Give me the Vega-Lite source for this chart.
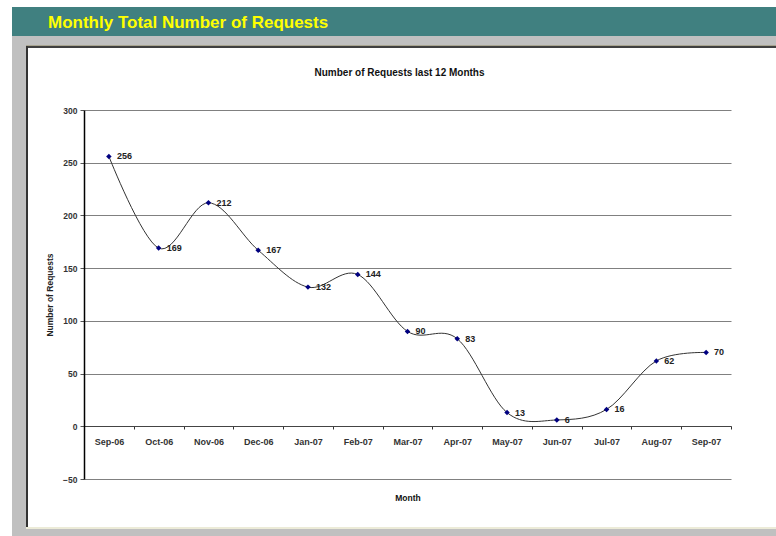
{
  "$schema": "https://vega.github.io/schema/vega-lite/v6.json",
  "background": "white",
  "padding": {"left": 12, "top": 7, "right": 0, "bottom": 0},
  "config": {"view": {"stroke": null}, "font": "Liberation Sans"},
  "vconcat": [
    {
      "width": 764, "height": 29,
      "view": {"fill": "#408080", "stroke": null},
      "data": {"values": [{"heading": "Monthly Total Number of Requests"}]},
      "mark": {"type": "text", "align": "left", "baseline": "alphabetic", "color": "#ffff00", "fontSize": 17, "fontWeight": "bold", "font": "Liberation Sans"},
      "encoding": {"text": {"field": "heading"}, "x": {"value": 36}, "y": {"value": 20.5}}
    },
    {
      "width": 764, "height": 9,
      "view": {"fill": "#c0c0c0", "stroke": null},
      "data": {"values": []},
      "mark": {"type": "point"},
      "encoding": {}
    },
    {
      "hconcat": [
        {
          "width": 14, "height": 1,
          "view": {"fill": "#c0c0c0", "stroke": null},
          "data": {"values": []},
          "mark": {"type": "point"},
          "encoding": {}
        },
        {
          "width": 750, "height": 1,
          "view": {"fill": "#a8a490", "stroke": null},
          "data": {"values": []},
          "mark": {"type": "point"},
          "encoding": {}
        }
      ],
      "spacing": 0
    },
    {
      "hconcat": [
        {
          "width": 14, "height": 481,
          "view": {"fill": "#c0c0c0", "stroke": null},
          "data": {"values": []},
          "mark": {"type": "point"},
          "encoding": {}
        },
        {
          "width": 2, "height": 481,
          "view": {"fill": "#333333", "stroke": null},
          "data": {"values": []},
          "mark": {"type": "point"},
          "encoding": {}
        },
        {
          "vconcat": [
            {
              "width": 748, "height": 2,
              "view": {"fill": "#404040", "stroke": null},
              "data": {"values": []},
              "mark": {"type": "point"},
              "encoding": {}
            },
            {
              "width": 748, "height": 20,
              "view": {"stroke": null},
              "data": {"values": []},
              "mark": {"type": "point"},
              "encoding": {}
            },
            {
              "hconcat": [
                {
                  "width": 17, "height": 1,
                  "view": {"stroke": null},
                  "data": {"values": []},
                  "mark": {"type": "point"},
                  "encoding": {}
                },
                {
                  "width": 647, "height": 369,
                  "view": {"stroke": null},
                  "title": {"text": "Number of Requests last 12 Months", "fontSize": 10, "fontWeight": "bold", "color": "#111111", "anchor": "middle", "frame": "group", "offset": 28, "dx": -8},
                  "data": {"values": [
                    {"month": "Sep-06", "requests": 256},
                    {"month": "Oct-06", "requests": 169},
                    {"month": "Nov-06", "requests": 212},
                    {"month": "Dec-06", "requests": 167},
                    {"month": "Jan-07", "requests": 132},
                    {"month": "Feb-07", "requests": 144},
                    {"month": "Mar-07", "requests": 90},
                    {"month": "Apr-07", "requests": 83},
                    {"month": "May-07", "requests": 13},
                    {"month": "Jun-07", "requests": 6},
                    {"month": "Jul-07", "requests": 16},
                    {"month": "Aug-07", "requests": 62},
                    {"month": "Sep-07", "requests": 70}
                  ]},
                  "encoding": {
                    "x": {
                      "field": "month", "type": "ordinal", "sort": null,
                      "scale": {"type": "band", "paddingInner": 0, "paddingOuter": 0},
                      "axis": {"title": "Month", "offset": -53, "tickBand": "extent", "tickSize": 3, "tickColor": "#333333", "domainColor": "#444444", "domainWidth": 1, "labelFontSize": 9, "labelFontWeight": "bold", "labelColor": "#333333", "labelPadding": 8, "labelAngle": 0, "labelOverlap": false, "titleFontSize": 8.5, "titleFontWeight": "bold", "titleColor": "#111111", "titlePadding": 47, "grid": false}
                    },
                    "y": {
                      "field": "requests", "type": "quantitative",
                      "scale": {"domain": [-50, 300], "nice": false, "zero": false},
                      "axis": {"values": [-50, 0, 50, 100, 150, 200, 250, 300], "title": "Number of Requests", "grid": true, "gridColor": "#808080", "gridWidth": 1, "gridOpacity": 1, "domainColor": "#000000", "domainWidth": 1.5, "tickSize": 4, "tickColor": "#555555", "labelFontSize": 8.5, "labelFontWeight": "bold", "labelColor": "#333333", "labelPadding": 3, "titleFontSize": 8.5, "titleFontWeight": "bold", "titleColor": "#222222", "titlePadding": 8}
                    }
                  },
                  "layer": [
                    {"mark": {"type": "line", "interpolate": "cardinal", "color": "#333333", "strokeWidth": 1}},
                    {"mark": {"type": "point", "shape": "diamond", "filled": true, "color": "#000080", "size": 30, "opacity": 1}},
                    {"mark": {"type": "text", "align": "left", "dx": 8, "baseline": "middle", "fontSize": 9, "fontWeight": "bold", "color": "#222222"},
                     "encoding": {"text": {"field": "requests", "type": "quantitative"}}}
                  ]
                }
              ],
              "spacing": 0
            }
          ],
          "spacing": 0
        }
      ],
      "spacing": 0
    },
    {
      "hconcat": [
        {
          "width": 14, "height": 2,
          "view": {"fill": "#c0c0c0", "stroke": null},
          "data": {"values": []},
          "mark": {"type": "point"},
          "encoding": {}
        },
        {
          "width": 750, "height": 2,
          "view": {"fill": "#ecebd8", "stroke": null},
          "data": {"values": []},
          "mark": {"type": "point"},
          "encoding": {}
        }
      ],
      "spacing": 0
    },
    {
      "width": 764, "height": 7,
      "view": {"fill": "#c0c0c0", "stroke": null},
      "data": {"values": []},
      "mark": {"type": "point"},
      "encoding": {}
    }
  ],
  "spacing": 0
}
